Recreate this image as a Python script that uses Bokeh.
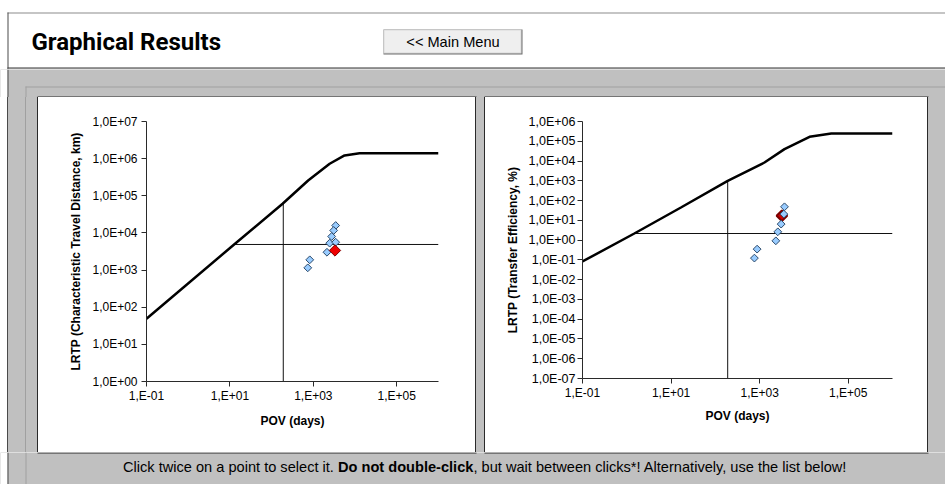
from bokeh.plotting import figure
from bokeh.layouts import column, row
from bokeh.models import Range1d, FixedTicker, Spacer
from bokeh.core.properties import value
from bokeh.embed import file_html
from bokeh.resources import INLINE

# ------------------------------------------------------------------ data
pov_ticks = [0.1, 10.0, 1000.0, 100000.0]
pov_tick_labels = ["1,E-01", "1,E+01", "1,E+03", "1,E+05"]

ctd_ticks = [1.0, 10.0, 100.0, 1000.0, 10000.0, 100000.0, 1000000.0, 10000000.0]
ctd_tick_labels = ["1,0E+00", "1,0E+01", "1,0E+02", "1,0E+03",
                   "1,0E+04", "1,0E+05", "1,0E+06", "1,0E+07"]

te_ticks = [1e-07, 1e-06, 1e-05, 0.0001, 0.001, 0.01, 0.1,
            1.0, 10.0, 100.0, 1000.0, 10000.0, 100000.0, 1000000.0]
te_tick_labels = ["1,0E-07", "1,0E-06", "1,0E-05", "1,0E-04", "1,0E-03",
                  "1,0E-02", "1,0E-01", "1,0E+00", "1,0E+01", "1,0E+02",
                  "1,0E+03", "1,0E+04", "1,0E+05", "1,0E+06"]

# reference boundary curves
ctd_curve_pov = [0.1, 12.6, 183, 750, 2460, 5600, 12800, 1000000]
ctd_curve_val = [48.8, 4886, 60900, 258000, 728000, 1220000, 1400000, 1400000]
te_curve_pov = [0.1, 1.48, 16.7, 190, 1285, 3640, 13400, 41500, 1000000]
te_curve_val = [0.083, 2.16, 44.7, 1000, 8430, 40000, 168000, 247000, 247000]

# threshold cross-hair lines
ctd_h_pov = [12.6, 1000000]
ctd_h_val = [4886, 4886]
ctd_v_pov = [190, 190]
ctd_v_val = [1, 62000]
te_h_pov = [1.48, 1000000]
te_h_val = [2.16, 2.16]
te_v_pov = [190, 190]
te_v_val = [1e-07, 1000]

# chemicals
ctd_pts_pov = [3430, 3070, 2750, 2460, 3430, 2120, 820, 735]
ctd_pts_val = [15850, 11640, 8020, 5300, 5630, 3020, 1890, 1150]
ctd_sel_pov = [3300]
ctd_sel_val = [3370]
te_pts_pov = [3640, 3520, 3060, 2570, 2320, 877, 762]
te_pts_val = [48.4, 20.7, 6.46, 2.63, 0.92, 0.35, 0.123]
te_sel_pov = [3180]
te_sel_val = [17.0]

# ------------------------------------------------------------------ styles
W = 945
GRAY = "#c0c0c0"
DARK = "#4a4a4a"
LIGHT = "#a0a0a0"
EDGE = "#2a2a2a"
FONT = "Liberation Sans"


def canvas(w, h, bg):
    p = figure(width=w, height=h, x_range=Range1d(0, w), y_range=Range1d(h, 0),
               min_border=0, toolbar_location=None, output_backend="svg",
               background_fill_color=bg, border_fill_color=bg,
               outline_line_color=None, x_axis_location=None, y_axis_location=None)
    p.grid.visible = False
    return p


def box(p, l, r, t, b, c):
    p.quad(left=[l], right=[r], top=[t], bottom=[b], fill_color=c, line_color=None)


def stripe(w, h, stops):
    parts = []
    for (a, b, c) in stops:
        parts.append(f"{c} {a}px, {c} {b}px")
    grad = "linear-gradient(to right, " + ", ".join(parts) + ")"
    return Spacer(width=w, height=h, margin=0, styles={"background": grad})


# ---------------------------------------------------------------- header (y 0..69)
hdr = canvas(W, 69, "white")
box(hdr, 7, W, 12, 13, "#8c8c8c")
box(hdr, 7, 8, 12, 69, DARK)
box(hdr, 7, W, 67, 68, "#333333")
box(hdr, 7, W, 68, 69, "#7a7a7a")
hdr.text(x=[31], y=[41], text=["Graphical Results"], text_font=value("Roboto"),
         text_font_style="bold", text_font_size="24px", text_color="black",
         text_baseline="middle", text_align="left")
box(hdr, 383, 522, 29, 54, "#6d6d6d")
box(hdr, 383, 521, 29, 53, "#d8d8d8")
box(hdr, 384, 520, 30, 52, "#efefef")
hdr.text(x=[452.5], y=[41.5], text=["<< Main Menu"], text_font=value(FONT),
         text_font_size="14.6px", text_color="black",
         text_baseline="middle", text_align="center")

# ---------------------------------------------------------------- strips
top = canvas(W, 28, GRAY)            # y 69..97
box(top, 0, 7, 0, 28, "white")
box(top, 7, 8, 0, 28, DARK)
box(top, 25, W, 17, 18, LIGHT)
box(top, 25, 26, 17, 28, LIGHT)
box(top, 37, 476, 27, 28, EDGE)
box(top, 484, 928, 27, 28, EDGE)

left_strip = stripe(38, 355, [(0, 7, "white"), (7, 8, DARK), (8, 25, GRAY),
                              (25, 26, LIGHT), (26, 37, GRAY), (37, 38, EDGE)])
gap = stripe(10, 355, [(0, 1, EDGE), (1, 9, GRAY), (9, 10, EDGE)])
right_strip = stripe(18, 355, [(0, 1, EDGE), (1, 18, GRAY)])

bot = canvas(W, 32, GRAY)            # y 452..484
box(bot, 0, 7, 0, 32, "white")
box(bot, 7, 8, 0, 32, DARK)
box(bot, 25, 26, 0, 32, LIGHT)
box(bot, 37, 476, 0, 1, EDGE)
box(bot, 484, 928, 0, 1, EDGE)
bot.text(x=[122.5], y=[14], text=["Click twice on a point to select it. "],
         text_font=value(FONT), text_font_size="14.6px", text_color="black",
         text_baseline="middle", text_align="left")
bot.text(x=[337.5], y=[14], text=["Do not double-click"],
         text_font=value(FONT), text_font_size="14.6px", text_font_style="bold",
         text_color="black", text_baseline="middle", text_align="left")
bot.text(x=[473.0], y=[14], text=[", but wait between clicks*! Alternatively, use the list below!"],
         text_font=value(FONT), text_font_size="14.6px", text_color="black",
         text_baseline="middle", text_align="left")


# ---------------------------------------------------------------- charts
def chart(w, h, lb, rb, tb, bb, yr, yticks, ylabels, ytitle, mls, als, xals, ysize):
    p = figure(width=w, height=h, x_axis_type="log", y_axis_type="log",
               x_range=Range1d(0.1, 1e6), y_range=Range1d(*yr),
               min_border_left=lb, min_border_right=rb, min_border_top=tb,
               min_border_bottom=bb, toolbar_location=None, output_backend="svg",
               background_fill_color="white", border_fill_color="white",
               outline_line_color=None)
    p.grid.visible = False
    p.xaxis.ticker = FixedTicker(ticks=pov_ticks)
    p.xaxis.major_label_overrides = dict(zip(pov_ticks, pov_tick_labels))
    p.yaxis.ticker = FixedTicker(ticks=yticks)
    p.yaxis.major_label_overrides = dict(zip(yticks, ylabels))
    p.xaxis.axis_label = "POV (days)"
    p.yaxis.axis_label = ytitle
    for ax in (p.xaxis[0], p.yaxis[0]):
        ax.axis_line_color = EDGE
        ax.major_tick_line_color = EDGE
        ax.major_tick_in = 0
        ax.major_tick_out = 5
        ax.minor_tick_line_color = None
        ax.major_label_text_font = FONT
        ax.major_label_text_color = "black"
        ax.axis_label_text_font = FONT
        ax.axis_label_text_font_style = "bold"
        ax.axis_label_text_font_size = "12px"
        ax.axis_label_text_color = "black"
    p.xaxis.major_label_text_font_size = "12px"
    p.yaxis.major_label_text_font_size = ysize
    p.xaxis.major_label_standoff = 2
    p.xaxis.axis_label_standoff = xals
    p.yaxis.major_label_standoff = mls
    p.yaxis.axis_label_standoff = als
    return p


# left chart: x 38..475, y 97..452 ; frame 146..438 x 121..381
left = chart(437, 355, 108, 37, 24, 71, (1, 1e7), ctd_ticks, ctd_tick_labels,
             "LRTP (Characteristic Travel Distance, km)", 4, 6, 8, "12px")
left.line(ctd_h_pov, ctd_h_val, line_color="#111111", line_width=1)
left.line(ctd_v_pov, ctd_v_val, line_color="#111111", line_width=1)
left.line(ctd_curve_pov, ctd_curve_val, line_color="black", line_width=2.5)
left.scatter(ctd_pts_pov, ctd_pts_val, marker="square", angle=0.785398, size=5.5,
             fill_color="#99ccff", line_color="#2c4a6b", line_width=1)
left.scatter(ctd_sel_pov, ctd_sel_val, marker="square", angle=0.785398, size=8,
             fill_color="#ee0000", line_color="#800000", line_width=1)

# right chart: x 485..927, y 97..452 ; frame 582..892 x 121..378
right = chart(442, 355, 97, 35, 24, 74, (1e-07, 1e6), te_ticks, te_tick_labels,
              "LRTP (Transfer Efficiency, %)", 2, 6, 6, "12.5px")
right.line(te_h_pov, te_h_val, line_color="#111111", line_width=1)
right.line(te_v_pov, te_v_val, line_color="#111111", line_width=1)
right.line(te_curve_pov, te_curve_val, line_color="black", line_width=2.5)
right.scatter(te_sel_pov, te_sel_val, marker="square", angle=0.785398, size=7.5,
              fill_color="#cc0000", line_color="#7a0000", line_width=2)
right.scatter(te_pts_pov, te_pts_val, marker="square", angle=0.785398, size=5.5,
              fill_color="#99ccff", line_color="#2c4a6b", line_width=1)

middle = row(left_strip, column(left), gap, column(right), right_strip)
page = column(hdr, top, middle, bot)

open("out.html", "w").write(file_html(page, INLINE))
